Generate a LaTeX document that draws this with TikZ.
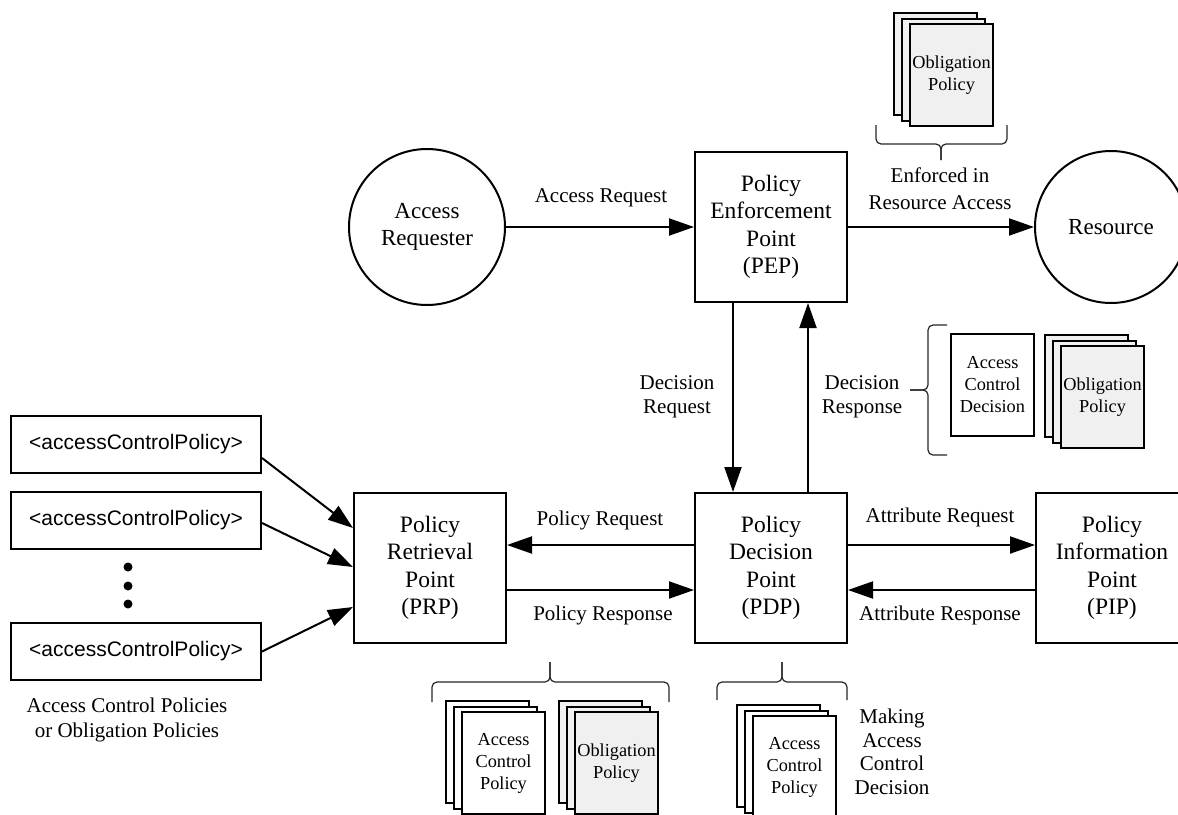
\documentclass[tikz,border=0pt]{standalone}
\usepackage{fontspec}
\setmainfont{Liberation Serif}
\setsansfont{Liberation Sans}
\usetikzlibrary{arrows.meta,calc}
\definecolor{obl}{HTML}{F0F0F0}
\newcommand{\docstack}[5]{%
  \node[page,fill=#4,anchor=north west] (#1c) at (#2-16,#3-11) {};
  \node[page,fill=#4,anchor=north west] (#1b) at (#2-8,#3-5.5) {};
  \node[page,fill=#4,anchor=north west] (#1a) at (#2,#3) {#5};
}
\begin{document}
\begin{tikzpicture}[x=1pt,y=-1pt,
  box/.style={draw,line width=2pt,minimum width=152pt,minimum height=150pt,align=center,inner sep=0pt,font=\fontsize{23.5}{27.5}\selectfont},
  circ/.style={draw,circle,line width=2pt,minimum size=156pt,align=center,inner sep=0pt,font=\fontsize{23}{27.5}\selectfont},
  lbl/.style={align=center,inner sep=0pt,font=\fontsize{21}{23.5}\selectfont},
  src/.style={draw,line width=2pt,minimum width=250pt,minimum height=57pt,inner sep=0pt,font=\sffamily\fontsize{21}{24}\selectfont},
  page/.style={draw,line width=2pt,minimum width=83pt,minimum height=102pt,inner sep=0pt,align=center,font=\fontsize{18.3}{22}\selectfont},
  arr/.style={line width=2pt,-{Triangle[length=25pt,width=17pt]}},
  brace/.style={line width=1.2pt,rounded corners=5pt,black!85},
  dot/.style={circle,fill,inner sep=0pt,minimum size=9pt}
]
\useasboundingbox (0,0) rectangle (1178,814);
\clip (0,0) rectangle (1178,814);

% main nodes
\node[circ] (req) at (427,227) {Access\\Requester};
\node[box] (pep) at (771,227) {Policy\\Enforcement\\Point\\(PEP)};
\node[circ,minimum size=152pt] (res) at (1111,227) {Resource};
\node[box] (pdp) at (771,568) {Policy\\Decision\\Point\\(PDP)};
\node[box] (prp) at (430,568) {Policy\\Retrieval\\Point\\(PRP)};
\node[box] (pip) at (1112,568) {Policy\\Information\\Point\\(PIP)};

% connectors
\draw[arr] (req.east) -- (pep.west);
\draw[arr] (pep.east) -- (res.west);
\draw[arr] ([xshift=-38pt]pep.south) -- ([xshift=-38pt]pdp.north);
\draw[arr] ([xshift=37pt]pdp.north) -- ([xshift=37pt]pep.south);
\draw[arr] ([yshift=23pt]pdp.west) -- ([yshift=23pt]prp.east);
\draw[arr] ([yshift=-22pt]prp.east) -- ([yshift=-22pt]pdp.west);
\draw[arr] ([yshift=23pt]pdp.east) -- ([yshift=23pt]pip.west);
\draw[arr] ([yshift=-22pt]pip.west) -- ([yshift=-22pt]pdp.east);

% labels
\node[lbl] (lar) at (601,198) {Access Request};
\node[lbl,font=\fontsize{21}{27}\selectfont] (lenf) at (940,189) {Enforced in\\Resource Access};
\node[lbl] (ldq) at (677,397) {Decision\\Request};
\node[lbl] (lds) at (862,397) {Decision\\Response};
\node[lbl] (lpq) at (600,520) {Policy Request};
\node[lbl] (lps) at (603,615) {Policy Response};
\node[lbl] (laq) at (940,517) {Attribute Request};
\node[lbl] (las) at (940,615) {Attribute Response};
\node[lbl,font=\fontsize{21}{25}\selectfont] (lacp) at (127,720) {Access Control Policies\\or Obligation Policies};
\node[lbl] (lmk) at (892,752) {Making\\Access\\Control\\Decision};

% policy sources
\node[src] (s1) at (136,444) {<accessControlPolicy>};
\node[src] (s2) at (136,520) {<accessControlPolicy>};
\node[src] (s3) at (136,651.5) {<accessControlPolicy>};
\node[dot] (d1) at (128,567) {};
\node[dot] (d2) at (128,586) {};
\node[dot] (d3) at (128,604) {};
\draw[arr] ([yshift=-14pt]s1.east) -- ([yshift=40pt]prp.west);
\draw[arr] ([yshift=-3pt]s2.east) -- ([yshift=1pt]prp.west);
\draw[arr] (s3.east) -- ([yshift=-39pt]prp.west);

% documents
\docstack{top}{909}{23}{obl}{Obligation\\Policy}
\node[page,fill=white,anchor=north west] (acd) at (950,333) {Access\\Control\\Decision};
\docstack{dro}{1060}{345}{obl}{Obligation\\Policy}
\docstack{bacp}{461}{711}{white}{Access\\Control\\Policy}
\docstack{bobl}{574}{711}{obl}{Obligation\\Policy}
\docstack{bmk}{752}{715}{white}{Access\\Control\\Policy}

% braces
\draw[brace] (876,125) -- (876,144) -- (941,144) -- (941,160);
\draw[brace] (1007,125) -- (1007,144) -- (941,144) -- (941,160);
\draw[brace] (947,325) -- (928,325) -- (928,390) -- (910,390);
\draw[brace] (947,455) -- (928,455) -- (928,390) -- (910,390);
\draw[brace] (432,702) -- (432,682) -- (550,682) -- (550,662);
\draw[brace] (669,702) -- (669,682) -- (550,682) -- (550,662);
\draw[brace] (717,700) -- (717,682) -- (782,682) -- (782,662);
\draw[brace] (847,700) -- (847,682) -- (782,682) -- (782,662);
\end{tikzpicture}
\end{document}
